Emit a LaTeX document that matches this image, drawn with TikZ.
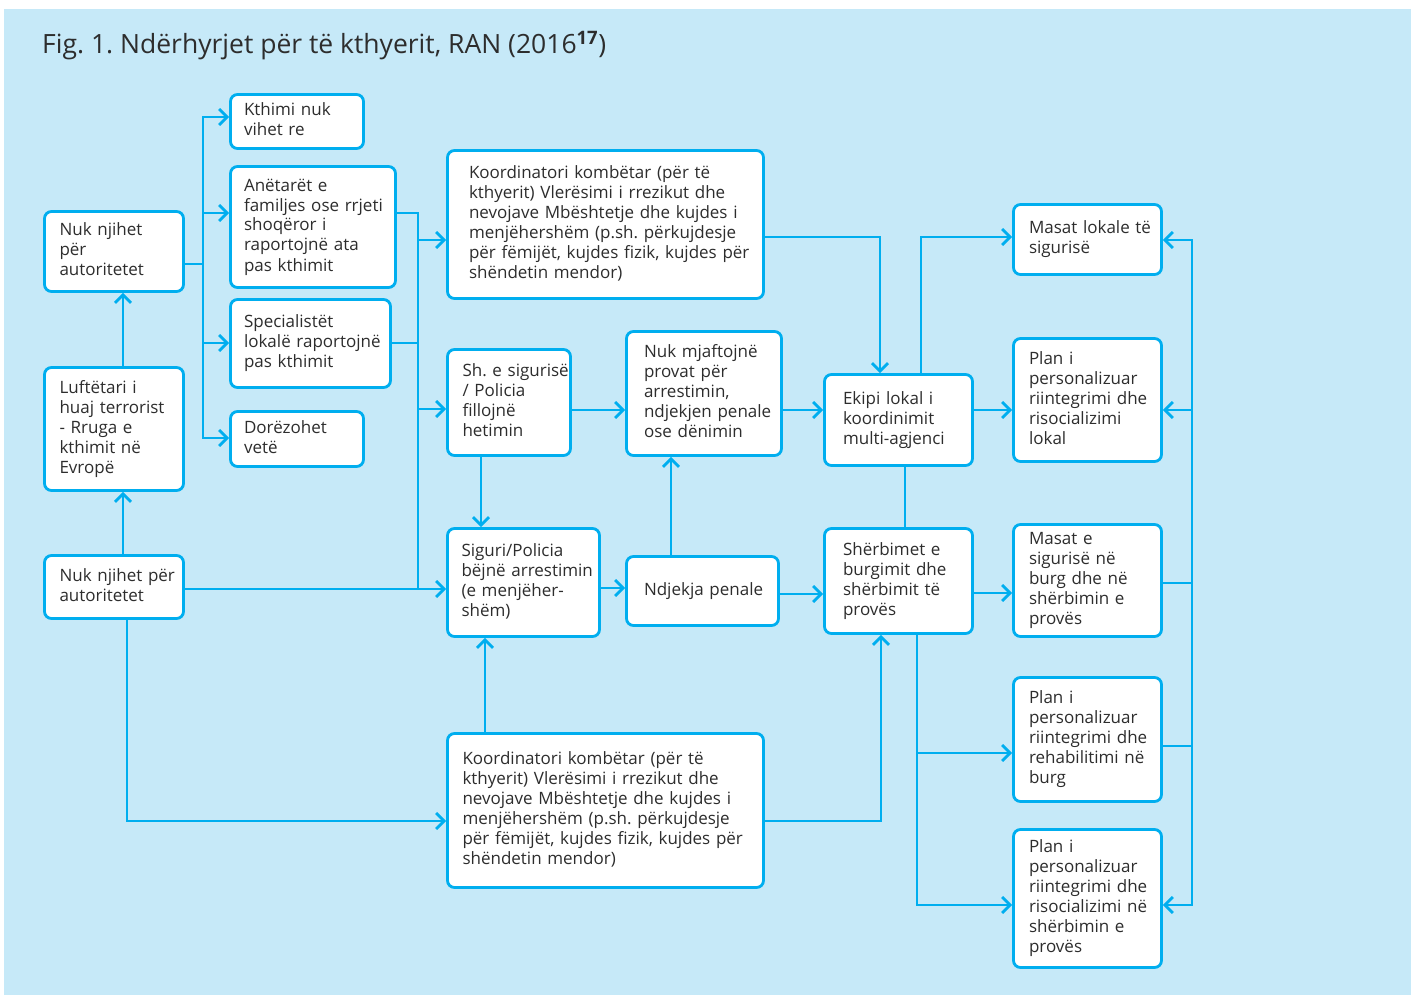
\documentclass[tikz,border=0pt]{standalone}
\usepackage{fontspec}
\setmainfont{Open Sans}
\usepackage{tikz}
\usetikzlibrary{arrows.meta, positioning}
\frenchspacing
\definecolor{BgBlue}{RGB}{198,233,248}
\definecolor{LineBlue}{RGB}{0,174,239}
\definecolor{TextGray}{RGB}{45,45,45}
\tikzstyle{box} = [rectangle, rounded corners=7pt, draw=LineBlue, fill=white, line width=2.8pt, align=left, inner xsep=15pt, inner ysep=0pt, text=TextGray, font=\fontsize{17}{20}\selectfont]
\tikzstyle{outcome} = [box, text width=117pt, inner xsep=15.5pt]
\tikzstyle{link} = [draw=LineBlue, line width=2.8pt]
\tikzstyle{arrow} = [link, -{Straight Barb[length=8pt, width=16pt]}]

\begin{document}
\begin{tikzpicture}[x=1pt, y=-1pt]
	\useasboundingbox (0,0) rectangle (1411,995);
	\fill[BgBlue] (4,9) rectangle (1411,995);
	\node (title) [anchor=base west, inner sep=0pt, text=TextGray, font=\fontsize{26.5}{30}\selectfont] at (42,54) {Fig. 1. Ndërhyrjet për të kthyerit, RAN (2016\textsuperscript{\textbf{17}})};

	% LEFT
	\node (A) [box, text width=109pt, minimum height=80pt] at (114,251.5) {\begin{tabular}{@{}l@{}} Nuk njihet \\ për \\ autoritetet \end{tabular}};
	\node (B) [box, text width=109pt, minimum height=123pt] at (114,429) {\begin{tabular}{@{}l@{}} Luftëtari i \\ huaj terrorist \\ - Rruga e \\ kthimit në \\ Evropë \end{tabular}};
	\node (C) [box, text width=109pt, minimum height=63pt] at (114,587) {\begin{tabular}{@{}l@{}} Nuk njihet për \\ autoritetet \end{tabular}};

	\node (D) [box, inner xsep=13.5pt, text width=106pt, minimum height=54pt] at (297,121.5) {\begin{tabular}{@{}l@{}} Kthimi nuk \\ vihet re \end{tabular}};
	\node (E) [box, inner xsep=13.5pt, text width=138pt, minimum height=121pt] at (313,227) {\begin{tabular}{@{}l@{}} Anëtarët e \\ familjes ose rrjeti \\ shoqëror i \\ raportojnë ata \\ pas kthimit \end{tabular}};
	\node (F) [box, inner xsep=13.5pt, text width=133pt, minimum height=88pt] at (310.5,343.5) {\begin{tabular}{@{}l@{}} Specialistët \\ lokalë raportojnë \\ pas kthimit \end{tabular}};
	\node (G) [box, inner xsep=13.5pt, text width=106pt, minimum height=55pt] at (297,439) {\begin{tabular}{@{}l@{}} Dorëzohet \\ vetë \end{tabular}};

	% MIDDLE
	\node (H) [box, inner xsep=21.5pt, text width=273pt, minimum height=148pt] at (605.5,224.5) {\begin{tabular}{@{}l@{}} Koordinatori kombëtar (për të \\ kthyerit) Vlerësimi i rrezikut dhe \\ nevojave Mbështetje dhe kujdes i \\ menjëhershëm (p.sh. përkujdesje \\ për fëmijët, kujdes fizik, kujdes për \\ shëndetin mendor) \end{tabular}};
	\node (I) [box, text width=93pt, minimum height=106pt] at (509,402.5) {\begin{tabular}{@{}l@{}} Sh. e sigurisë \\ / Policia \\ fillojnë \\ hetimin \end{tabular}};
	\node (J) [box, inner xsep=14pt, text width=124pt, minimum height=108pt] at (523.5,582.5) {\begin{tabular}{@{}l@{}} Siguri/Policia \\ bëjnë arrestimin \\ (e menjëher- \\ shëm) \end{tabular}};
	\node (K) [box, inner xsep=17.5pt, text width=120pt, minimum height=124pt] at (704,393.5) {\begin{tabular}{@{}l@{}} Nuk mjaftojnë \\ provat për \\ arrestimin, \\ ndjekjen penale \\ ose dënimin \end{tabular}};
	\node (L) [box, inner xsep=17.5pt, text width=117pt, minimum height=69pt] at (702.5,591) {\begin{tabular}{@{}l@{}} Ndjekja penale \end{tabular}};
	\node (M) [box, text width=286pt, minimum height=154pt] at (605.5,810.5) {\begin{tabular}{@{}l@{}} Koordinatori kombëtar (për të \\ kthyerit) Vlerësimi i rrezikut dhe \\ nevojave Mbështetje dhe kujdes i \\ menjëhershëm (p.sh. përkujdesje \\ për fëmijët, kujdes fizik, kujdes për \\ shëndetin mendor) \end{tabular}};

	\node (N) [box, inner xsep=18.5pt, text width=111pt, minimum height=91pt] at (898.5,420) {\begin{tabular}{@{}l@{}} Ekipi lokal i \\ koordinimit \\ multi-agjenci \end{tabular}};
	\node (O) [box, inner xsep=18.5pt, text width=111pt, minimum height=105pt] at (898.5,581) {\begin{tabular}{@{}l@{}} Shërbimet e \\ burgimit dhe \\ shërbimit të \\ provës \end{tabular}};

	% RIGHT
	\node (P) [outcome, minimum height=70pt] at (1087.5,239.5) {\begin{tabular}{@{}l@{}} Masat lokale të \\ sigurisë \end{tabular}};
	\node (Q) [outcome, minimum height=123pt] at (1087.5,400) {\begin{tabular}{@{}l@{}} Plan i \\ personalizuar \\ riintegrimi dhe \\ risocializimi \\ lokal \end{tabular}};
	\node (R) [outcome, minimum height=112pt] at (1087.5,580.5) {\begin{tabular}{@{}l@{}} Masat e \\ sigurisë në \\ burg dhe në \\ shërbimin e \\ provës \end{tabular}};
	\node (S) [outcome, minimum height=124pt] at (1087.5,739.5) {\begin{tabular}{@{}l@{}} Plan i \\ personalizuar \\ riintegrimi dhe \\ rehabilitimi në \\ burg \end{tabular}};
	\node (T) [outcome, minimum height=138pt] at (1087.5,898.5) {\begin{tabular}{@{}l@{}} Plan i \\ personalizuar \\ riintegrimi dhe \\ risocializimi në \\ shërbimin e \\ provës \end{tabular}};

	% left column
	\draw[arrow] (B.north -| 123,0) -- (A.south -| 123,0);
	\draw[arrow] (C.north -| 123,0) -- (B.south -| 123,0);
	\draw[arrow] (A.east |- 0,264) -- (203,264) |- (D.west |- 0,117);
	\draw[arrow] (A.east |- 0,264) -- (203,264) |- (E.west |- 0,213);
	\draw[arrow] (A.east |- 0,264) -- (203,264) |- (F.west |- 0,343);
	\draw[arrow] (A.east |- 0,264) -- (203,264) |- (G.west |- 0,438);
	\draw[arrow] (E.east |- 0,213) -| (418,240) -- (H.west |- 0,240);
	\draw[arrow] (F.east |- 0,343) -| (418,409) -- (I.west |- 0,409);
	\draw[link] (418,213) -- (418,589);
	\draw[arrow] (C.east |- 0,589) -- (J.west |- 0,589);
	\draw[arrow] (C.south -| 127,0) |- (M.west |- 0,821);

	% middle
	\draw[arrow] (I.east |- 0,410) -- (K.west |- 0,410);
	\draw[arrow] (I.south -| 481,0) -- (J.north -| 481,0);
	\draw[arrow] (J.east |- 0,588) -- (L.west |- 0,588);
	\draw[arrow] (L.north -| 671,0) -- (K.south -| 671,0);
	\draw[arrow] (M.north -| 485,0) -- (J.south -| 485,0);
	\draw[arrow] (K.east |- 0,410) -- (N.west |- 0,410);
	\draw[arrow] (L.east |- 0,594) -- (O.west |- 0,594);
	\draw[arrow] (H.east |- 0,237) -| (N.north -| 880,0);
	\draw[arrow] (M.east |- 0,821) -| (O.south -| 881,0);
	\draw[link] (N.south -| 905,0) -- (O.north -| 905,0);

	% right
	\draw[arrow] (N.north -| 921,0) |- (P.west |- 0,237);
	\draw[arrow] (N.east |- 0,410) -- (Q.west |- 0,410);
	\draw[arrow] (O.east |- 0,593) -- (R.west |- 0,593);
	\draw[arrow] (O.south -| 917,0) |- (S.west |- 0,753);
	\draw[arrow] (O.south -| 917,0) |- (T.west |- 0,905);
	\draw[link] (R.east |- 0,583) -| (1192,746) -- (S.east |- 0,746);
	\draw[arrow] (R.east |- 0,583) -| (1192,240) -- (P.east |- 0,240);
	\draw[arrow] (R.east |- 0,583) -| (1192,410) -- (Q.east |- 0,410);
	\draw[arrow] (S.east |- 0,746) -| (1192,905) -- (T.east |- 0,905);
\end{tikzpicture}
\end{document}
